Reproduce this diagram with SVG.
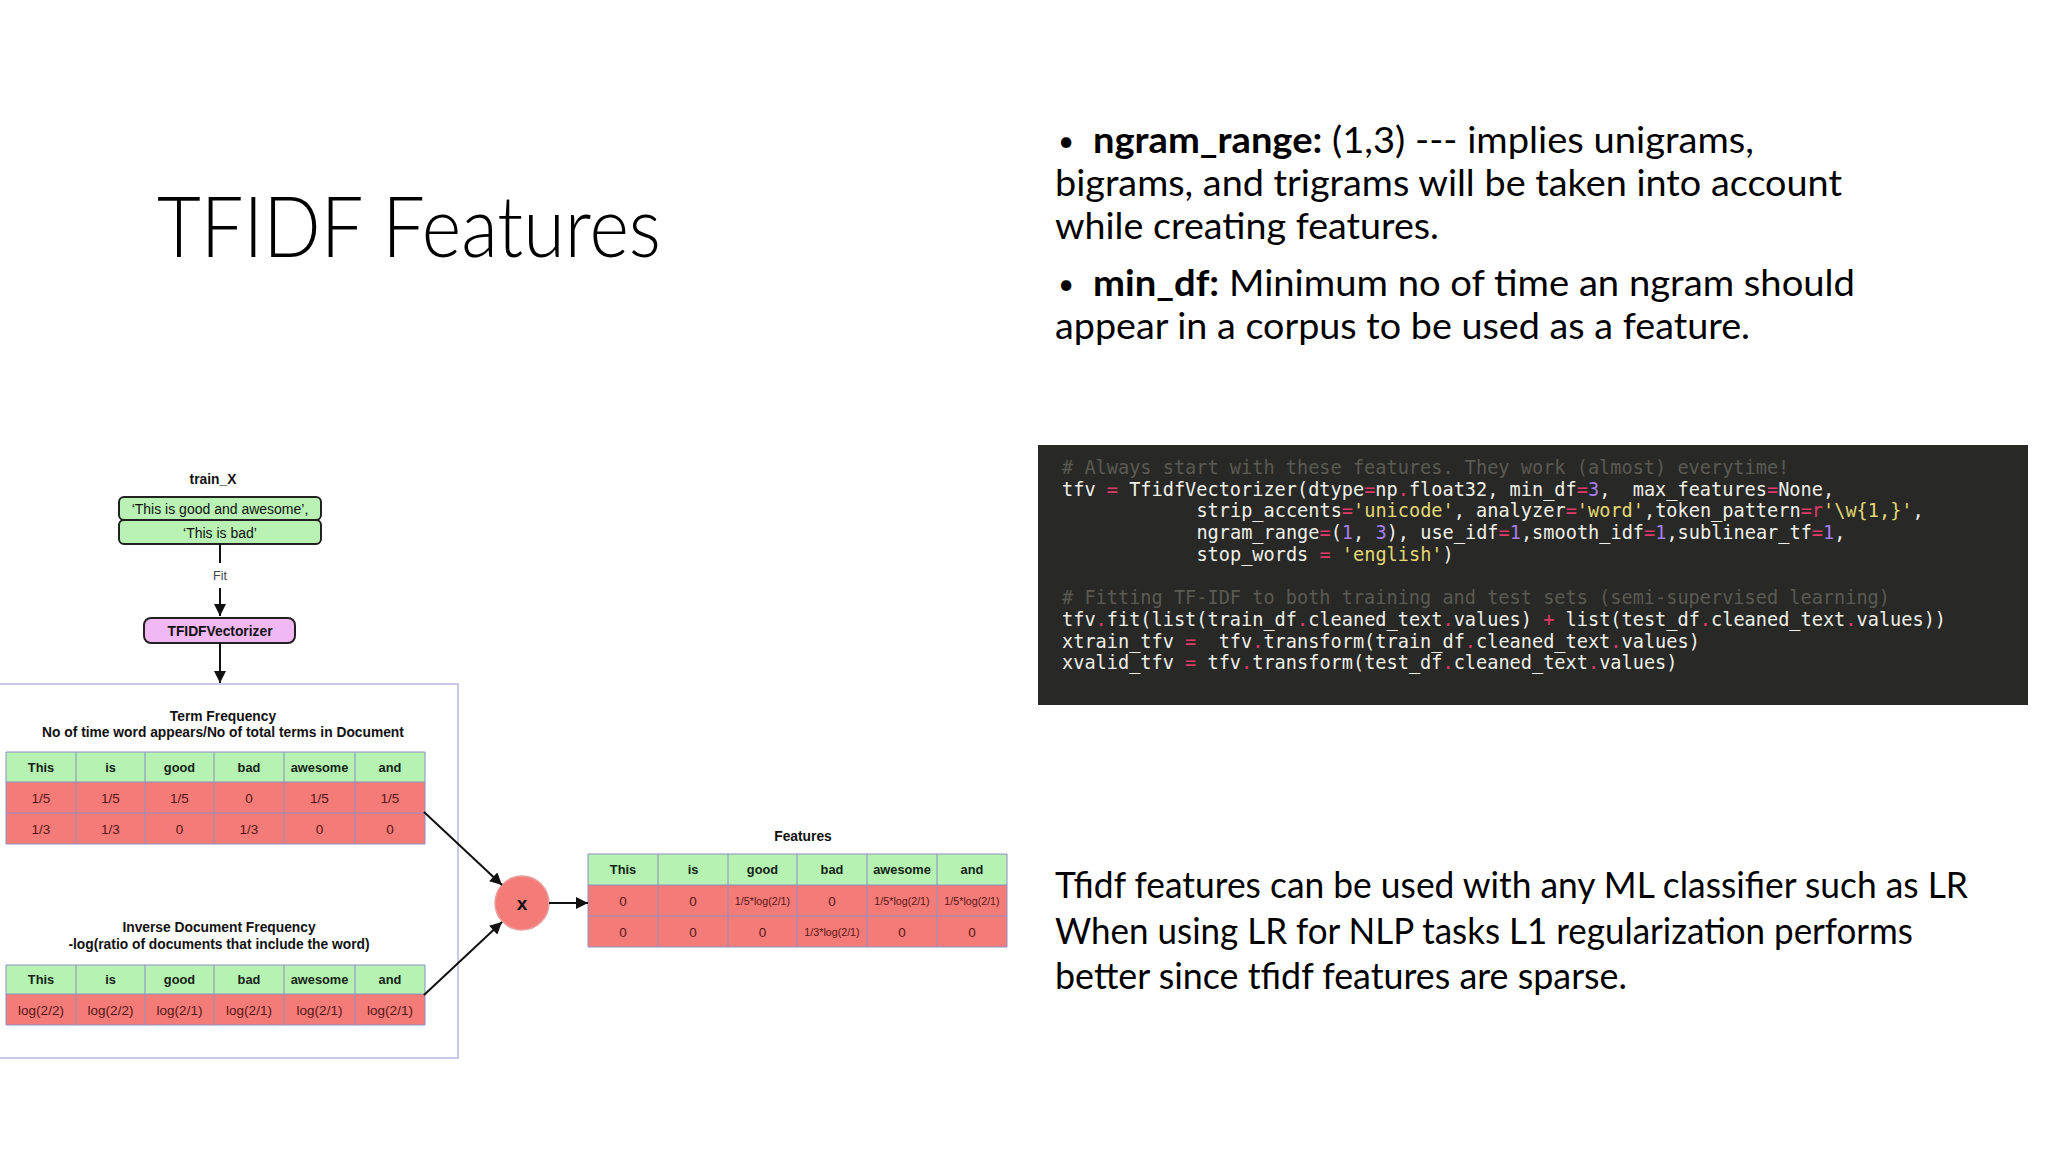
<svg xmlns="http://www.w3.org/2000/svg" width="2048" height="1152" viewBox="0 0 2048 1152">
<style>
.title{font-family:Lato,"Liberation Sans",sans-serif;font-weight:300;font-size:84px;fill:#000}
.body{font-family:Lato,"Liberation Sans",sans-serif;font-size:37px;fill:#000}
.bul{font-family:Lato,"Liberation Sans",sans-serif;font-size:28px;fill:#000}
.b{font-weight:bold}
.code{font-family:"DejaVu Sans Mono","Liberation Mono",monospace;font-size:20px;fill:#f0f0ea}
.cm{fill:#5a5a54}
.op{fill:#e0386a}
.nm{fill:#a57ff5}
.st{fill:#e2d874}
.lbl{font-family:"Liberation Sans",Arial,sans-serif;font-weight:bold;font-size:13.8px;fill:#111;text-anchor:middle}
.box{font-family:"Liberation Sans",Arial,sans-serif;font-size:14px;fill:#111;text-anchor:middle}
.hd{font-family:"Liberation Sans",Arial,sans-serif;font-weight:bold;font-size:12.8px;fill:#142414;text-anchor:middle}
.cv{font-family:"Liberation Sans",Arial,sans-serif;font-size:13.5px;fill:#5a1414;text-anchor:middle}
.cs{font-family:"Liberation Sans",Arial,sans-serif;font-size:10.7px;fill:#5a1414;text-anchor:middle}
.green{fill:#b6f2b2}
.red{fill:#f47c78}
.grid{stroke:#8e8ec4;stroke-width:1;fill:none}
.edge{stroke:#111;stroke-width:2;fill:none}
</style>
<defs>
<marker id="ah" viewBox="0 0 10 10" refX="10" refY="5" markerWidth="13" markerHeight="12" markerUnits="userSpaceOnUse" orient="auto">
<path d="M0,0 L10,5 L0,10 z" fill="#111"/>
</marker>
</defs>
<rect width="2048" height="1152" fill="#fff"/>

<g id="title">
<text class="title" x="157" y="257" textLength="504" lengthAdjust="spacingAndGlyphs">TFIDF Features</text>
</g>

<g id="bullets">
<text class="bul" x="1058" y="151">•</text>
<text class="body" x="1093" y="153" textLength="661" lengthAdjust="spacingAndGlyphs"><tspan class="b">ngram_range:</tspan> (1,3) --- implies unigrams,</text>
<text class="body" x="1055" y="196" textLength="787" lengthAdjust="spacingAndGlyphs">bigrams, and trigrams will be taken into account</text>
<text class="body" x="1055" y="239" textLength="384" lengthAdjust="spacingAndGlyphs">while creating features.</text>
<text class="bul" x="1058" y="294">•</text>
<text class="body" x="1093" y="296" textLength="762" lengthAdjust="spacingAndGlyphs"><tspan class="b">min_df:</tspan> Minimum no of time an ngram should</text>
<text class="body" x="1055" y="339" textLength="695" lengthAdjust="spacingAndGlyphs">appear in a corpus to be used as a feature.</text>
</g>

<g id="code">
<rect x="1038" y="445" width="990" height="260" fill="#282826"/>
<g transform="translate(1062 0) scale(0.93 1)" class="code">
<text x="0" y="474" class="cm"># Always start with these features. They work (almost) everytime!</text>
<text x="0" y="495.7">tfv <tspan class="op">=</tspan> TfidfVectorizer(dtype<tspan class="op">=</tspan>np<tspan class="op">.</tspan>float32, min_df<tspan class="op">=</tspan><tspan class="nm">3</tspan>,&#160; max_features<tspan class="op">=</tspan>None,</text>
<text x="144.5" y="517.4">strip_accents<tspan class="op">=</tspan><tspan class="st">'unicode'</tspan>, analyzer<tspan class="op">=</tspan><tspan class="st">'word'</tspan>,token_pattern<tspan class="op">=r</tspan><tspan class="st">'\w{1,}'</tspan>,</text>
<text x="144.5" y="539.1">ngram_range<tspan class="op">=</tspan>(<tspan class="nm">1</tspan>, <tspan class="nm">3</tspan>), use_idf<tspan class="op">=</tspan><tspan class="nm">1</tspan>,smooth_idf<tspan class="op">=</tspan><tspan class="nm">1</tspan>,sublinear_tf<tspan class="op">=</tspan><tspan class="nm">1</tspan>,</text>
<text x="144.5" y="560.8">stop_words <tspan class="op">=</tspan> <tspan class="st">'english'</tspan>)</text>
<text x="0" y="604.2" class="cm"># Fitting TF-IDF to both training and test sets (semi-supervised learning)</text>
<text x="0" y="625.9">tfv<tspan class="op">.</tspan>fit(list(train_df<tspan class="op">.</tspan>cleaned_text<tspan class="op">.</tspan>values) <tspan class="op">+</tspan> list(test_df<tspan class="op">.</tspan>cleaned_text<tspan class="op">.</tspan>values))</text>
<text x="0" y="647.6">xtrain_tfv <tspan class="op">=</tspan>&#160; tfv<tspan class="op">.</tspan>transform(train_df<tspan class="op">.</tspan>cleaned_text<tspan class="op">.</tspan>values)</text>
<text x="0" y="669.3">xvalid_tfv <tspan class="op">=</tspan> tfv<tspan class="op">.</tspan>transform(test_df<tspan class="op">.</tspan>cleaned_text<tspan class="op">.</tspan>values)</text>
</g>
</g>

<g id="summary">
<text class="body" x="1055" y="898" textLength="913" lengthAdjust="spacingAndGlyphs">Tfidf features can be used with any ML classifier such as LR</text>
<text class="body" x="1055" y="944" textLength="858" lengthAdjust="spacingAndGlyphs">When using LR for NLP tasks L1 regularization performs</text>
<text class="body" x="1055" y="989" textLength="572" lengthAdjust="spacingAndGlyphs">better since tfidf features are sparse.</text>
</g>

<g id="transform_box">
<rect x="-5" y="684" width="463" height="374" fill="#fff" stroke="#c9c9e6" stroke-width="2"/>
</g>

<g id="train_x">
<text class="lbl" x="213" y="484">train_X</text>
<rect x="119" y="497" width="202" height="23" rx="5" fill="#b9f2b4" stroke="#222" stroke-width="2"/>
<rect x="119" y="520" width="202" height="24" rx="5" fill="#b9f2b4" stroke="#222" stroke-width="2"/>
<text class="box" x="220" y="513.5">‘This is good and awesome’,</text>
<text class="box" x="220" y="537.5">‘This is bad’</text>
</g>

<g id="tfidf_vectorizer">
<rect x="144" y="618" width="151" height="25" rx="7" fill="#f2b8f4" stroke="#222" stroke-width="2"/>
<text class="lbl" x="220" y="635.5">TFIDFVectorizer</text>
</g>

<g id="tf_table">
<text class="lbl" x="223" y="721">Term Frequency</text>
<text class="lbl" x="223" y="737">No of time word appears/No of total terms in Document</text>
<rect class="green" x="6" y="752" width="419" height="30"/>
<rect class="red" x="6" y="782" width="419" height="62"/>
<path class="grid" d="M6,752H425V844H6Z M6,782H425 M6,813H425 M76,752V844 M145,752V844 M214,752V844 M284,752V844 M355,752V844"/>
<text class="hd" x="41" y="772">This</text><text class="hd" x="110.5" y="772">is</text><text class="hd" x="179.5" y="772">good</text><text class="hd" x="249" y="772">bad</text><text class="hd" x="319.5" y="772">awesome</text><text class="hd" x="390" y="772">and</text>
<text class="cv" x="41" y="802.5">1/5</text><text class="cv" x="110.5" y="802.5">1/5</text><text class="cv" x="179.5" y="802.5">1/5</text><text class="cv" x="249" y="802.5">0</text><text class="cv" x="319.5" y="802.5">1/5</text><text class="cv" x="390" y="802.5">1/5</text>
<text class="cv" x="41" y="833.5">1/3</text><text class="cv" x="110.5" y="833.5">1/3</text><text class="cv" x="179.5" y="833.5">0</text><text class="cv" x="249" y="833.5">1/3</text><text class="cv" x="319.5" y="833.5">0</text><text class="cv" x="390" y="833.5">0</text>
</g>

<g id="idf_table">
<text class="lbl" x="219" y="932">Inverse Document Frequency</text>
<text class="lbl" x="219" y="949">-log(ratio of documents that include the word)</text>
<rect class="green" x="6" y="965" width="419" height="29"/>
<rect class="red" x="6" y="994" width="419" height="31"/>
<path class="grid" d="M6,965H425V1025H6Z M6,994H425 M76,965V1025 M145,965V1025 M214,965V1025 M284,965V1025 M355,965V1025"/>
<text class="hd" x="41" y="984">This</text><text class="hd" x="110.5" y="984">is</text><text class="hd" x="179.5" y="984">good</text><text class="hd" x="249" y="984">bad</text><text class="hd" x="319.5" y="984">awesome</text><text class="hd" x="390" y="984">and</text>
<text class="cv" x="41" y="1014.5">log(2/2)</text><text class="cv" x="110.5" y="1014.5">log(2/2)</text><text class="cv" x="179.5" y="1014.5">log(2/1)</text><text class="cv" x="249" y="1014.5">log(2/1)</text><text class="cv" x="319.5" y="1014.5">log(2/1)</text><text class="cv" x="390" y="1014.5">log(2/1)</text>
</g>

<g id="multiply">
<circle cx="522" cy="903" r="27" fill="#f47c78" stroke="#e9a0a0" stroke-width="1.5"/>
<text class="lbl" x="522" y="909.5" style="font-size:19px">x</text>
</g>

<g id="features_table">
<text class="lbl" x="803" y="841">Features</text>
<rect class="green" x="588" y="854" width="419" height="31"/>
<rect class="red" x="588" y="885" width="419" height="62"/>
<path class="grid" d="M588,854H1007V947H588Z M588,885H1007 M588,916H1007 M658,854V947 M728,854V947 M797,854V947 M867,854V947 M937,854V947"/>
<text class="hd" x="623" y="874">This</text><text class="hd" x="693" y="874">is</text><text class="hd" x="762.5" y="874">good</text><text class="hd" x="832" y="874">bad</text><text class="hd" x="902" y="874">awesome</text><text class="hd" x="972" y="874">and</text>
<text class="cv" x="623" y="905.5">0</text><text class="cv" x="693" y="905.5">0</text><text class="cs" x="762.5" y="904.5">1/5*log(2/1)</text><text class="cv" x="832" y="905.5">0</text><text class="cs" x="902" y="904.5">1/5*log(2/1)</text><text class="cs" x="972" y="904.5">1/5*log(2/1)</text>
<text class="cv" x="623" y="936.5">0</text><text class="cv" x="693" y="936.5">0</text><text class="cv" x="762.5" y="936.5">0</text><text class="cs" x="832" y="935.5">1/3*log(2/1)</text><text class="cv" x="902" y="936.5">0</text><text class="cv" x="972" y="936.5">0</text>
</g>

<g id="connectors">
<line class="edge" x1="220" y1="544" x2="220" y2="563"/>
<text x="220" y="580" style="font-family:'Liberation Sans',Arial,sans-serif;font-size:12.5px;fill:#444;text-anchor:middle">Fit</text>
<line class="edge" x1="220" y1="588" x2="220" y2="616" marker-end="url(#ah)"/>
<line class="edge" x1="220" y1="643" x2="220" y2="683" marker-end="url(#ah)"/>
<line class="edge" x1="424" y1="812" x2="502" y2="885" marker-end="url(#ah)"/>
<line class="edge" x1="424" y1="995" x2="502" y2="922" marker-end="url(#ah)"/>
<line class="edge" x1="549" y1="903" x2="588" y2="903" marker-end="url(#ah)"/>
</g>
</svg>
